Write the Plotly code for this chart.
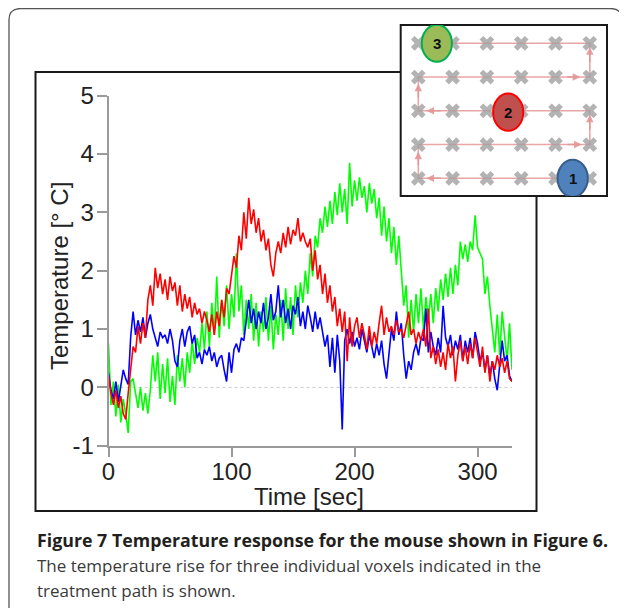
import plotly.graph_objects as go

# the page puts the figure 8 px in from the top-left corner
OFF = 8
W, H = 627 - OFF, 608 - OFF

# sample times (s), one reading every 2 s
time_s = list(range(0, 330, 2))

# voxel 1 (blue)
temp_voxel1 = [
    0.25, -0.05, -0.2, 0.1, -0.25, 0.0, 0.3, 0.15, 0.05, 0.85,
    1.3, 0.9, 1.15, 0.95, 1.2, 0.85, 1.1, 1.25, 1.0, 0.85,
    0.7, 0.95, 0.85, 0.9, 0.75, 1.0, 0.8, 0.45, 0.35, 0.8,
    1.0, 0.7, 0.95, 1.05, 0.75, 0.9, 0.5, 0.6, 0.4, 0.65,
    0.55, 0.7, 0.45, 0.6, 0.35, 0.5, 0.55, 0.3, 0.1, 0.6,
    0.25, 0.65, 0.75, 0.6, 0.85, 0.8, 1.2, 1.5, 1.1, 1.35,
    1.0, 1.3, 1.1, 1.45, 1.0, 1.2, 1.6, 1.15, 1.3, 1.75,
    1.2, 1.5, 1.1, 1.35, 1.0, 1.4, 1.25, 1.55, 1.05, 1.3,
    1.0, 1.4, 1.2, 0.95, 1.3, 1.0, 1.2, 0.95, 0.7, 0.9,
    0.35, 0.85, 0.25, 0.9, 0.45, -0.72, 0.8, 1.0, 0.75, 0.95,
    0.7, 0.85, 0.65, 1.0, 0.8, 0.6, 0.9, 0.7, 0.5, 0.75,
    0.55, 0.8, 0.4, 0.15, 0.6, 1.0, 0.8, 1.3, 0.9, 1.1,
    0.55, 0.15, 0.45, 0.3, 0.6, 0.75, 0.55, 0.85, 0.8, 1.35,
    0.6, 0.95, 0.7, 0.55, 0.85, 0.6, 1.4, 0.85, 0.7, 0.9,
    0.55, 0.8, 0.65, 0.9, 0.45, 0.8, 0.6, 0.85, 0.5, 0.95,
    0.75, 0.45, 0.6, 0.3, 0.55, 0.2, 0.45, 0.15, -0.05, 0.35,
    0.8, 0.45, 0.55, 0.2, 0.1,
]

# voxel 2 (red)
temp_voxel2 = [
    0.2, -0.1, -0.3, -0.05, -0.35, -0.15, -0.45, -0.55, -0.1, 0.3,
    0.7, 0.6, 1.05, 0.75, 1.1, 0.85, 1.5, 1.75, 1.4, 2.05,
    1.7, 1.95, 1.6, 1.85, 1.5, 1.9, 1.65, 1.8, 1.4, 1.75,
    1.3, 1.6, 1.35, 1.55, 1.2, 1.45, 1.25, 1.35, 1.1, 1.3,
    1.15, 0.95, 1.25, 0.9, 1.3, 1.05, 1.5, 1.2, 1.7, 1.6,
    1.9, 2.25, 2.05, 2.6, 2.35, 3.0, 2.55, 3.25, 2.8, 3.05,
    2.65, 2.9, 2.5, 2.7, 2.35, 2.55, 2.1, 1.9, 2.3, 2.5,
    2.3, 2.65, 2.4, 2.75, 2.45, 2.7, 2.6, 2.9, 2.5, 2.65,
    2.5, 2.4, 2.55, 2.0, 2.35, 1.85, 2.1, 1.6, 1.95, 1.45,
    1.75, 1.3, 1.55, 1.05, 1.35, 0.95, 1.3, 0.45, 1.2, 0.7,
    1.05, 1.2, 0.85, 1.1, 0.9, 0.65, 1.05, 0.7, 0.95, 0.75,
    1.1, 1.4, 0.9, 1.2, 0.95, 1.05, 0.9, 1.15, 0.95, 1.0,
    0.85, 1.1, 1.3, 0.9, 1.0, 0.75, 0.95, 0.8, 1.0, 0.7,
    1.35, 0.5, 0.7, 0.4, 0.65, 0.35, 0.6, 0.3, 0.75, 0.5,
    0.7, 0.1, 0.55, 0.8, 0.45, 0.7, 0.4, 0.75, 0.5, 0.85,
    0.6, 0.35, 0.7, 0.25, 0.55, 0.1, 0.45, 0.3, 0.55, 0.35,
    0.5, 0.25, 0.45, 0.15, 0.1,
]

# voxel 3 (green)
temp_voxel3 = [
    0.75, -0.3, 0.1, -0.5, 0.05, -0.6, -0.2, -0.45, -0.78, 0.1,
    0.15, -0.1, -0.35, 0.0, -0.4, -0.1, -0.45, -0.05, 0.55, 0.1,
    0.6, -0.2, 0.4, -0.1, 0.5, -0.25, 0.2, -0.3, 0.55, 0.1,
    0.5, 0.0, 0.6, 0.25, 0.8, 0.4, 0.85, 0.6, 1.1, 0.65,
    1.3, 0.7, 1.45, 0.9, 1.9, 0.85, 1.5, 1.05, 1.75, 1.0,
    1.6, 1.2, 2.3, 1.3, 1.75, 0.9, 1.5, 1.0, 1.6, 0.8,
    1.45, 0.7, 1.3, 0.95, 1.55, 0.8, 1.4, 0.65, 1.25, 0.9,
    1.5, 0.8, 1.7, 1.0, 1.55, 0.9, 1.75, 1.2, 1.8, 1.45,
    2.0, 1.6, 2.3, 1.9, 2.6, 2.4, 2.9, 2.65, 3.1, 2.75,
    3.2, 2.8, 3.35, 2.95, 3.5, 3.0, 3.4, 2.8, 3.85, 3.1,
    3.55, 3.2, 3.6, 3.25, 3.45, 3.0, 3.5, 3.15, 3.4, 2.9,
    3.25, 2.6, 3.1, 2.5, 2.9, 2.3, 2.75, 2.1, 2.6, 2.0,
    1.4, 1.75, 0.85, 1.5, 0.95, 1.6, 1.1, 1.7, 1.0, 1.55,
    1.15, 1.6, 1.1, 1.7, 1.3, 1.85, 1.5, 1.95, 1.55, 2.05,
    1.6, 2.1, 1.75, 2.5, 2.2, 2.45, 2.15, 2.5, 2.35, 2.95,
    2.4, 2.3, 2.2, 1.6, 1.9, 1.4, 1.05, 0.6, 1.25, 0.55,
    1.3, 0.85, 0.45, 1.1, 0.3,
]

x_ticks = [0, 100, 200, 300]
y_ticks = [-1, 0, 1, 2, 3, 4, 5]
y_ticktext = ["-1", "0", "1", "2", "3", "4", "5"]

# inset: treatment path over the voxel grid (column, row; row 1 = bottom)
grid_cols = [1, 2, 3, 4, 5, 6]
grid_rows = [1, 2, 3, 4, 5]
path_cols = [5.5, 1, 1, 6, 6, 1, 1, 6, 6, 1.5]
path_rows = [1, 1, 2, 2, 3, 3, 4, 4, 5, 5]
arrow_head_cols = [1.24, 1, 5.76, 6, 1.24, 1, 5.72, 6]
arrow_head_rows = [1, 1.79, 2, 2.88, 3, 3.8, 4, 4.88]
arrow_tail_cols = [1.7, 1, 5.3, 6, 1.7, 1, 5.3, 6]
arrow_tail_rows = [1, 1.35, 2, 2.4, 3, 3.35, 4, 4.4]
voxel_cols = [5.5, 3.62, 1.54]
voxel_rows = [1.0, 2.96, 5.0]
voxel_labels = ["1", "2", "3"]
voxel_fill = ["#4f81bd", "#c0504d", "#9bbb59"]
voxel_edge = ["#385d8a", "#ff0000", "#00b050"]


# positions below are given in window pixels
def px(x):
    return (x - OFF) / W


def py(y):
    return 1 - (y - OFF) / H


fig = go.Figure()

for temps, col in [(temp_voxel3, "#00ff00"), (temp_voxel1, "#0000ff"), (temp_voxel2, "#ff0000")]:
    fig.add_trace(go.Scatter(x=time_s, y=temps, mode="lines",
                             line=dict(color=col, width=1.6),
                             xaxis="x", yaxis="y", hoverinfo="skip"))

# inset traces
fig.add_trace(go.Scatter(x=path_cols, y=path_rows, mode="lines",
                         line=dict(color="rgba(228,150,150,0.85)", width=1.6),
                         xaxis="x2", yaxis="y2", hoverinfo="skip"))
fig.add_trace(go.Scatter(x=[c for r in grid_rows for c in grid_cols],
                         y=[r for r in grid_rows for c in grid_cols],
                         mode="markers",
                         marker=dict(symbol="x", size=13, color="rgba(160,160,160,0.8)",
                                     line=dict(width=0)),
                         xaxis="x2", yaxis="y2", hoverinfo="skip"))

axis_style = dict(showline=True, linecolor="#9a9a9a", linewidth=1.5,
                  ticks="outside", ticklen=10, tickwidth=1.5, tickcolor="#9a9a9a",
                  tickfont=dict(family="Liberation Sans, Arial", size=24, color="#222"),
                  showgrid=False, zeroline=False, automargin=False)

hidden = dict(showline=False, showgrid=False, zeroline=False, showticklabels=False,
              ticks="", automargin=False, fixedrange=True)

shapes = [
    # outer rounded border
    dict(type="path", xref="paper", yref="paper", layer="below",
         path=(f"M {px(9)},{py(640)} L {px(9)},{py(20)} Q {px(9)},{py(8.5)} {px(21)},{py(8.5)} "
               f"L {px(610)},{py(8.5)} Q {px(622)},{py(8.5)} {px(622)},{py(20)} L {px(622)},{py(640)}"),
         line=dict(color="#555", width=1.3)),
    # chart frame
    dict(type="rect", xref="paper", yref="paper", layer="below",
         x0=px(35.5), x1=px(536.5), y0=py(511), y1=py(72),
         line=dict(color="#1a1a1a", width=2)),
    # inset box
    dict(type="rect", xref="paper", yref="paper", layer="below",
         x0=px(400.7), x1=px(607), y0=py(196), y1=py(25),
         fillcolor="white", line=dict(color="#1a1a1a", width=2)),
    # dotted zero line
    dict(type="line", xref="x", yref="y", layer="below",
         x0=0, x1=328, y0=0, y1=0,
         line=dict(color="#c8c8c8", width=1, dash="dot")),
]

rx, ry = 0.44, 0.55
for c, r, fc, ec in zip(voxel_cols, voxel_rows, voxel_fill, voxel_edge):
    shapes.append(dict(type="circle", xref="x2", yref="y2", layer="above",
                       x0=c - rx, x1=c + rx, y0=r - ry, y1=r + ry,
                       fillcolor=fc, line=dict(color=ec, width=2)))

annotations = [
    dict(text="Temperature [° C]", x=px(59), y=py(276), xref="paper", yref="paper",
         textangle=-90, showarrow=False, xanchor="center", yanchor="middle",
         font=dict(family="Liberation Sans, Arial", size=24, color="#222")),
    dict(text="Time [sec]", x=px(309), y=py(497), xref="paper", yref="paper",
         showarrow=False, xanchor="center", yanchor="middle",
         font=dict(family="Liberation Sans, Arial", size=24, color="#222")),
    dict(text="<b>Figure 7 Temperature response for the mouse shown in Figure 6.</b>",
         x=px(35), y=py(540), xref="paper", yref="paper", showarrow=False,
         xanchor="left", yanchor="middle",
         font=dict(family="Open Sans", size=17.8, color="#231f20")),
    dict(text="The temperature rise for three individual voxels indicated in the",
         x=px(35), y=py(565), xref="paper", yref="paper", showarrow=False,
         xanchor="left", yanchor="middle",
         font=dict(family="Open Sans", size=17, color="#3a3a3a")),
    dict(text="treatment path is shown.",
         x=px(35), y=py(590), xref="paper", yref="paper", showarrow=False,
         xanchor="left", yanchor="middle",
         font=dict(family="Open Sans", size=17, color="#3a3a3a")),
]

for hx, hy, tx, ty in zip(arrow_head_cols, arrow_head_rows, arrow_tail_cols, arrow_tail_rows):
    annotations.append(dict(x=hx, y=hy, ax=tx, ay=ty, xref="x2", yref="y2",
                            axref="x2", ayref="y2", text="", showarrow=True,
                            arrowhead=2, arrowsize=1, arrowwidth=1.5,
                            arrowcolor="rgba(228,150,150,0.9)", standoff=0))

for c, r, lab in zip(voxel_cols, voxel_rows, voxel_labels):
    annotations.append(dict(x=c, y=r, xref="x2", yref="y2", text=f"<b>{lab}</b>",
                            showarrow=False, font=dict(family="Liberation Sans, Arial",
                                                       size=15, color="#111")))

fig.update_layout(
    template="none",
    width=W, height=H, autosize=False,
    margin=dict(l=0, r=0, t=0, b=0, pad=0),
    paper_bgcolor="white", plot_bgcolor="rgba(0,0,0,0)",
    showlegend=False,
    xaxis=dict(domain=[px(108.5), px(512)], range=[0, 328], tickvals=x_ticks,
               anchor="y", ticklabelstandoff=-6, **axis_style),
    yaxis=dict(domain=[py(445.7), py(95.7)], range=[-1, 5], tickvals=y_ticks,
               ticktext=y_ticktext, anchor="x", ticklabelstandoff=-2, **axis_style),
    xaxis2=dict(domain=[px(400.7), px(607)], range=[0.487, 6.501], anchor="y2", **hidden),
    yaxis2=dict(domain=[py(196), py(25)], range=[0.476, 5.542], anchor="x2", **hidden),
    shapes=shapes,
    annotations=annotations,
)

fig.write_html("out.html")
